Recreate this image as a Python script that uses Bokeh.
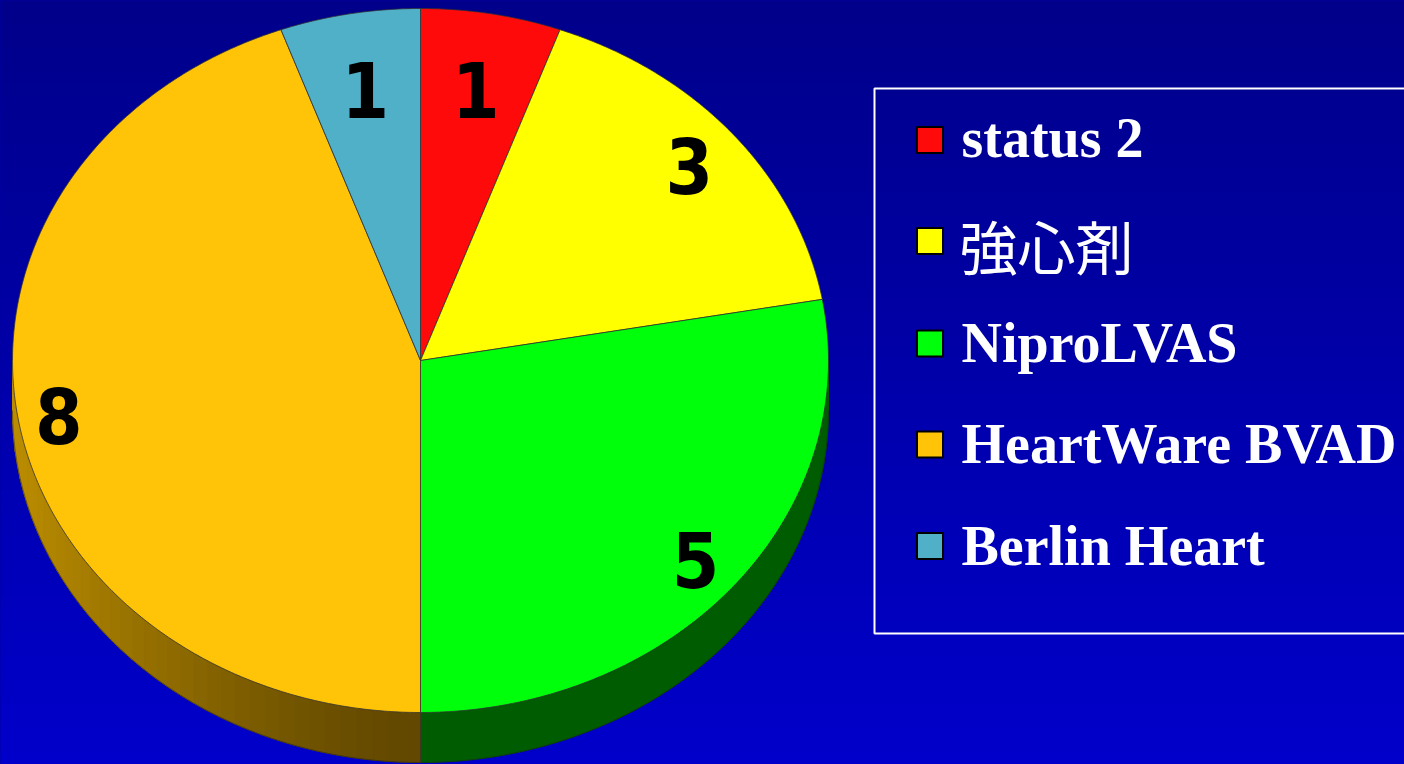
import numpy as np
from bokeh.plotting import figure
from bokeh.models import Range1d, ColumnDataSource
from bokeh.core.properties import value
from bokeh.embed import file_html
from bokeh.resources import INLINE

# ---- data ----
categories = ["status 2", "強心剤", "NiproLVAS", "HeartWare BVAD", "Berlin Heart"]
counts = [1, 3, 5, 8, 1]
top_colors = ["#ff0a0a", "#ffff00", "#00ff0a", "#ffc408", "#50b0c8"]
side_colors = ["#8a0000", "#8a8a00", "#005c00", "#634800", "#2a6070"]
label_radius = [0.78, 0.86, 0.88, 0.90, 0.78]

# ---- geometry (style) ----
W, H = 1404, 764
CX, CY, RX, RY, DEPTH = 420.0, 360.0, 408.0, 352.0, 50.0

def rim(t_deg, dy=0.0):
    t = np.radians(t_deg)
    return CX + RX * np.sin(t), CY - RY * np.cos(t) + dy

p = figure(width=W, height=H, x_range=Range1d(0, W), y_range=Range1d(H, 0),
           toolbar_location=None, output_backend="svg", min_border=0)
p.axis.visible = False
p.grid.visible = False
p.outline_line_color = None
p.background_fill_color = "#0000a0"
p.border_fill_color = "#0000a0"

# background vertical gradient
n = 64
edges = np.linspace(0, H, n + 1)
cols = []
for i in range(n):
    f = i / (n - 1)
    b = int(round(138 + f * (202 - 138)))
    cols.append("#%02x%02x%02x" % (0, 0, b))
p.quad(left=-2, right=W + 2, top=edges[:-1] - 0.5, bottom=edges[1:] + 0.5, fill_color=cols,
       line_color=None)

total = float(sum(counts))
ends = np.cumsum(counts) / total * 360.0
starts = np.concatenate([[0.0], ends[:-1]])

# ---- sides (3D depth), only the front half (90..270 deg) ----
side_xs, side_ys, side_fc = [], [], []
for i, (a, b) in enumerate(zip(starts, ends)):
    lo, hi = max(a, 90.0), min(b, 270.0)
    if hi <= lo:
        continue
    if categories[i] == "HeartWare BVAD":
        m = 40
        tt = np.linspace(lo, hi, m + 1)
        for k in range(m):
            ts = np.linspace(tt[k], tt[k + 1], 4)
            x1, y1 = rim(ts)
            x2, y2 = rim(ts[::-1], DEPTH)
            xm = float(np.mean(x1))
            f = np.clip((CX - xm) / RX, 0, 1)  # 0 at center, 1 at left
            f = f ** 1.4
            r = int(98 + f * (188 - 98)); g = int(72 + f * (142 - 72))
            side_xs.append(list(np.concatenate([x1, x2])))
            side_ys.append(list(np.concatenate([y1, y2])))
            side_fc.append("#%02x%02x%02x" % (r, g, 0))
    else:
        ts = np.linspace(lo, hi, 80)
        x1, y1 = rim(ts)
        x2, y2 = rim(ts[::-1], DEPTH)
        side_xs.append(list(np.concatenate([x1, x2])))
        side_ys.append(list(np.concatenate([y1, y2])))
        side_fc.append(side_colors[i])
p.patches(xs=side_xs, ys=side_ys, fill_color=side_fc, line_color=side_fc, line_width=1)

ts = np.linspace(90, 270, 200)
bx, by = rim(ts, DEPTH)
p.line(bx, by, line_color="#202020", line_width=1, line_alpha=0.5)
p.segment(x0=[CX], y0=[CY + RY], x1=[CX], y1=[CY + RY + DEPTH], line_color="#303030",
          line_width=1, line_alpha=0.7)

# ---- top faces ----
xs, ys = [], []
for a, b in zip(starts, ends):
    ts = np.linspace(a, b, max(int((b - a) * 2), 8))
    x, y = rim(ts)
    xs.append([CX] + list(x))
    ys.append([CY] + list(y))
src = ColumnDataSource(dict(xs=xs, ys=ys, color=top_colors, cat=categories))
p.patches("xs", "ys", source=src, fill_color="color", line_color="#303030",
          line_width=1, line_alpha=0.75)

# ---- slice value labels ----
mids = (starts + ends) / 2.0
lx, ly = [], []
for m, f in zip(mids, label_radius):
    t = np.radians(m)
    lx.append(CX + f * RX * np.sin(t))
    ly.append(CY - f * RY * np.cos(t))
p.text(x=lx, y=ly, text=[str(c) for c in counts], text_color="black",
       text_font=value("'Liberation Sans Narrow', 'DejaVu Sans Condensed', 'Liberation Sans', Arial, sans-serif"),
       text_font_style="bold",
       text_font_size="76px", text_align="center", text_baseline="middle")

# ---- legend ----
p.quad(left=[874], right=[1430], top=[88], bottom=[633], fill_color=None,
       line_color="white", line_width=2)
sq_y = [139.5, 240.5, 343, 444, 545.5]
base_y = [137, 244, 342, 443, 545]
p.rect(x=[929.5] * 5, y=sq_y, width=26, height=26, fill_color=top_colors,
       line_color="black", line_width=2)
for i, cat in enumerate(categories):
    if cat == "強心剤":
        p.text(x=[959], y=[base_y[i]], text=[cat], text_color="white",
               text_font=value("Noto Sans CJK JP"), text_font_size="58px",
               text_baseline="alphabetic", text_align="left")
    else:
        p.text(x=[961], y=[base_y[i]], text=[cat], text_color="white",
               text_font=value("Liberation Serif"), text_font_style="bold",
               text_font_size="56px", text_baseline="alphabetic", text_align="left")

html = file_html(p, INLINE)
html = html.replace("<head>", "<head><style>html,body{margin:0;padding:0;overflow:hidden;background:#0000a0;}</style>", 1)
open("out.html", "w").write(html)
